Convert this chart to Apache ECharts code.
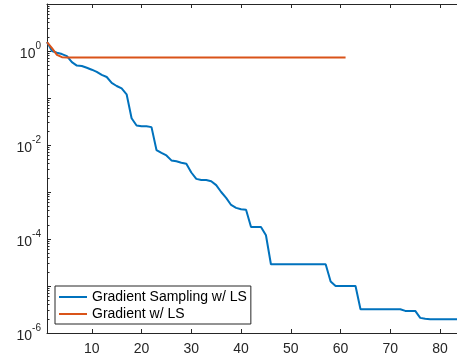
<!DOCTYPE html>
<html>
<head>
<meta charset="utf-8">
<script src="https://cdn.jsdelivr.net/npm/echarts@6/dist/echarts.min.js"></script>
<style>
  html, body { margin: 0; padding: 0; background: #fff; }
  #chart { width: 457px; height: 358px; }
</style>
</head>
<body>
<div id="chart"></div>
<script>
// Iterations (x) and objective values (y)
const samplingIters = [];
for (let i = 1; i <= 85; i++) samplingIters.push(i);
const samplingVals = [
  1.55, 1.0, 0.92, 0.86, 0.78, 0.58, 0.49, 0.48, 0.44, 0.40,
  0.36, 0.31, 0.28, 0.21, 0.18, 0.16, 0.12, 0.037, 0.026, 0.025,
  0.025, 0.024, 0.0078, 0.0068, 0.0060, 0.0047, 0.0045, 0.0042, 0.0040, 0.0026,
  0.0019, 0.0018, 0.0018, 0.0017, 0.0014, 0.0010, 0.00075, 0.00053, 0.00046, 0.00043,
  0.00042, 0.00018, 0.00018, 0.00018, 0.00012, 2.9e-5, 2.9e-5, 2.9e-5, 2.9e-5, 2.9e-5,
  2.9e-5, 2.9e-5, 2.9e-5, 2.9e-5, 2.9e-5, 2.9e-5, 2.9e-5, 1.25e-5, 1.0e-5, 1.0e-5,
  1.0e-5, 1.0e-5, 1.0e-5, 3.2e-6, 3.2e-6, 3.2e-6, 3.2e-6, 3.2e-6, 3.2e-6, 3.2e-6,
  3.2e-6, 3.2e-6, 2.95e-6, 2.95e-6, 2.95e-6, 2.1e-6, 2.0e-6, 1.95e-6, 1.95e-6, 1.95e-6,
  1.95e-6, 1.95e-6, 1.95e-6, 1.95e-6, 1.95e-6
];

const gradIters = [];
for (let i = 1; i <= 61; i++) gradIters.push(i);
const gradVals = [1.55, 1.15, 0.83, 0.74];
while (gradVals.length < gradIters.length) gradVals.push(0.73);

const seriesNames = ['Gradient Sampling w/ LS', 'Gradient w/ LS'];
const seriesColors = ['#0072BD', '#D95319'];

const font = "'Liberation Sans', Arial, sans-serif";
const ink = '#262626';

const chart = echarts.init(document.getElementById('chart'));

const xCommon = {
  type: 'value',
  min: 1,
  max: 85,
  splitNumber: 8,
  axisLine: { lineStyle: { color: ink, width: 1 } },
  axisTick: { inside: true, length: 4, lineStyle: { color: ink } },
  splitLine: { show: false }
};

chart.setOption({
  animation: false,
  grid: { left: 47, top: 4, width: 418, height: 329, outerBoundsMode: 'none' },
  legend: {
    orient: 'vertical',
    left: 55,
    top: 286,
    padding: [4, 4, 3, 3],
    itemWidth: 28,
    itemHeight: 14,
    itemGap: 3,
    backgroundColor: '#fff',
    borderColor: ink,
    borderWidth: 1,
    borderRadius: 0,
    itemStyle: { opacity: 0 },
    textStyle: { fontFamily: font, fontSize: 14, color: '#000' },
    data: seriesNames
  },
  xAxis: [
    Object.assign({}, xCommon, {
      position: 'bottom',
      axisLabel: {
        fontFamily: font, fontSize: 14, color: ink, margin: 9,
        showMinLabel: false, showMaxLabel: false
      }
    }),
    Object.assign({}, xCommon, {
      position: 'top',
      axisLabel: { show: false }
    })
  ],
  yAxis: {
    type: 'log',
    logBase: 10,
    min: 1e-6,
    max: 10,
    splitNumber: 7,
    axisLine: { show: true, lineStyle: { color: ink, width: 1 } },
    axisTick: { inside: true, length: 4, lineStyle: { color: ink } },
    minorTick: { show: true, splitNumber: 9, length: 2.5, lineStyle: { color: ink } },
    splitLine: { show: false },
    minorSplitLine: { show: false },
    axisLabel: {
      margin: 6,
      formatter: function (v) {
        const e = Math.round(Math.log10(v));
        if (e % 2 !== 0) return '';
        return '{b|10}{s|' + e + '}';
      },
      rich: {
        b: { fontFamily: font, fontSize: 14, color: ink, verticalAlign: 'bottom', lineHeight: 20 },
        s: { fontFamily: font, fontSize: 10, color: ink, verticalAlign: 'top', lineHeight: 12 }
      }
    }
  },
  series: [
    {
      name: seriesNames[0],
      type: 'line',
      symbol: 'none',
      color: seriesColors[0],
      lineStyle: { width: 2, color: seriesColors[0] },
      data: samplingIters.map((x, i) => [x, samplingVals[i]])
    },
    {
      name: seriesNames[1],
      type: 'line',
      symbol: 'none',
      color: seriesColors[1],
      lineStyle: { width: 2, color: seriesColors[1] },
      data: gradIters.map((x, i) => [x, gradVals[i]])
    }
  ]
});
</script>
</body>
</html>
